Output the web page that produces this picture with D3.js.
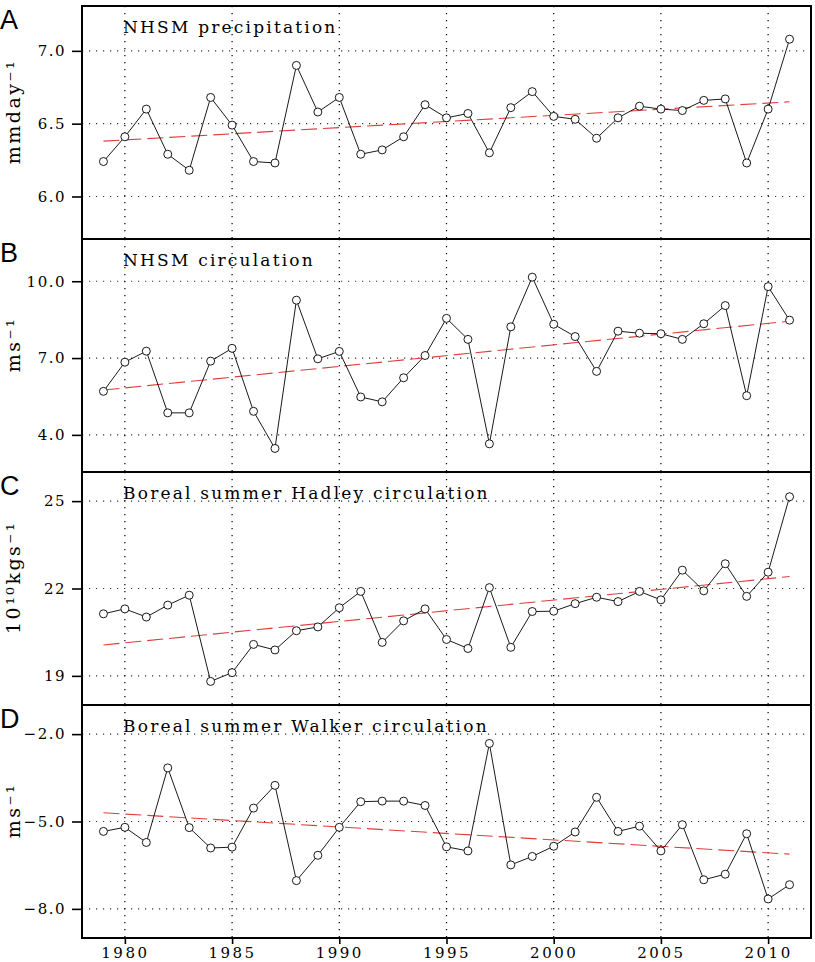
<!DOCTYPE html>
<html>
<head>
<meta charset="utf-8">
<script src="https://cdnjs.cloudflare.com/ajax/libs/d3/7.8.5/d3.min.js"></script>
<style>
body { margin: 0; background: #fff; }
</style>
</head>
<body>
<div id="chart"></div>
<script>
// years on the x axis
var years = [1979, 1980, 1981, 1982, 1983, 1984, 1985, 1986, 1987, 1988, 1989, 1990,
    1991, 1992, 1993, 1994, 1995, 1996, 1997, 1998, 1999, 2000, 2001, 2002, 2003,
    2004, 2005, 2006, 2007, 2008, 2009, 2010, 2011];
var xTicks = [1980, 1985, 1990, 1995, 2000, 2005, 2010];

// A: NHSM precipitation (mm/day)
var precip = [6.24, 6.41, 6.60, 6.29, 6.18, 6.68, 6.49, 6.24, 6.23, 6.90, 6.58, 6.68,
    6.29, 6.32, 6.41, 6.63, 6.54, 6.57, 6.30, 6.61, 6.72, 6.55, 6.53, 6.40, 6.54,
    6.62, 6.60, 6.59, 6.66, 6.67, 6.23, 6.60, 7.08];
var precipTrend = [6.38, 6.65];
var precipTicks = [6.0, 6.5, 7.0];

// B: NHSM circulation (m/s)
var circ = [5.70, 6.84, 7.27, 4.86, 4.86, 6.88, 7.38, 4.92, 3.47, 9.26, 6.97, 7.26,
    5.48, 5.29, 6.23, 7.10, 8.55, 7.73, 3.65, 8.22, 10.16, 8.32, 7.84, 6.48, 8.05,
    7.97, 7.95, 7.73, 8.34, 9.05, 5.53, 9.79, 8.48];
var circTrend = [5.75, 8.44];
var circTicks = [4.0, 7.0, 10.0];

// C: boreal summer Hadley circulation (10^10 kg/s)
var hadley = [21.13, 21.30, 21.02, 21.43, 21.77, 18.81, 19.11, 20.08, 19.89, 20.55, 20.68, 21.34,
    21.90, 20.15, 20.89, 21.30, 20.25, 19.94, 22.03, 19.98, 21.21, 21.22, 21.48, 21.70, 21.55,
    21.90, 21.61, 22.63, 21.92, 22.85, 21.73, 22.56, 25.15];
var hadleyTrend = [20.06, 22.41];
var hadleyTicks = [19, 22, 25];

// D: boreal summer Walker circulation (m/s)
var walker = [-5.34, -5.20, -5.72, -3.16, -5.21, -5.91, -5.88, -4.54, -3.76, -7.03, -6.16, -5.20,
    -4.32, -4.30, -4.30, -4.45, -5.87, -6.01, -2.32, -6.49, -6.20, -5.85, -5.36, -4.17, -5.34,
    -5.16, -6.01, -5.11, -7.00, -6.81, -5.42, -7.66, -7.17];
var walkerTrend = [-4.70, -6.12];
var walkerTicks = [-8.0, -5.0, -2.0];

var panels = [
    {letter: "A", title: "NHSM precipitation", unit: "mmday\u207B\u00B9", values: precip,
        trend: precipTrend, ticks: precipTicks, domain: [5.708, 7.308], fmt: ".1f"},
    {letter: "B", title: "NHSM circulation", unit: "ms\u207B\u00B9", values: circ,
        trend: circTrend, ticks: circTicks, domain: [2.55, 11.65], fmt: ".1f"},
    {letter: "C", title: "Boreal summer Hadley circulation", unit: "10\u00B9\u2070kgs\u207B\u00B9", values: hadley,
        trend: hadleyTrend, ticks: hadleyTicks, domain: [18.0, 26.0], fmt: "d"},
    {letter: "D", title: "Boreal summer Walker circulation", unit: "ms\u207B\u00B9", values: walker,
        trend: walkerTrend, ticks: walkerTicks, domain: [-9.0, -1.0], fmt: ".1f"}
];

var width = 815, height = 962;
var left = 82, right = 811, top0 = 6, panelH = 233;
var serif = "'DejaVu Serif', serif";

var svg = d3.select("#chart").append("svg")
    .attr("width", width)
    .attr("height", height);

var x = d3.scaleLinear().domain([1978, 2012]).range([left, right]);

panels.forEach(function (p, i) {
    var y0 = top0 + i * panelH;
    var y = d3.scaleLinear().domain(p.domain).range([y0 + panelH, y0]);
    var g = svg.append("g");

    // dotted grid
    g.selectAll(".hgrid").data(p.ticks).enter().append("line")
        .attr("x1", left).attr("x2", right)
        .attr("y1", function (d) { return y(d); })
        .attr("y2", function (d) { return y(d); })
        .style("stroke", "#333")
        .style("stroke-width", 1.2)
        .style("stroke-dasharray", "1.2,5.8");
    g.selectAll(".vgrid").data(xTicks).enter().append("line")
        .attr("x1", function (d) { return x(d); })
        .attr("x2", function (d) { return x(d); })
        .attr("y1", y0).attr("y2", y0 + panelH)
        .style("stroke", "#000")
        .style("stroke-width", 1.2)
        .style("stroke-dasharray", "1.2,5.8");

    // linear trend
    g.append("line")
        .attr("x1", x(years[0])).attr("x2", x(years[years.length - 1]))
        .attr("y1", y(p.trend[0])).attr("y2", y(p.trend[1]))
        .style("stroke", "#e03c3c")
        .style("stroke-width", 1.1)
        .style("stroke-dasharray", "16,6");

    var line = d3.line()
        .x(function (d, j) { return x(years[j]); })
        .y(function (d) { return y(d); });

    g.append("path")
        .datum(p.values)
        .attr("d", line)
        .style("fill", "none")
        .style("stroke", "#000")
        .style("stroke-width", 0.9);

    g.selectAll("circle").data(p.values).enter().append("circle")
        .attr("cx", function (d, j) { return x(years[j]); })
        .attr("cy", function (d) { return y(d); })
        .attr("r", 4)
        .style("fill", "#fff")
        .style("stroke", "#000")
        .style("stroke-width", 0.9);

    // y axis
    var yAxis = g.append("g")
        .attr("transform", "translate(" + left + ",0)")
        .call(d3.axisLeft(y).tickValues(p.ticks).tickSize(10).tickPadding(6).tickFormat(d3.format(p.fmt)));
    yAxis.select(".domain").remove();
    yAxis.selectAll("line").style("stroke", "#000").style("stroke-width", 1.6);
    yAxis.selectAll("text")
        .style("font-family", serif)
        .style("font-size", "15px")
        .style("letter-spacing", "1.5px")
        .style("fill", "#000");

    // frame
    g.append("rect")
        .attr("x", left).attr("y", y0)
        .attr("width", right - left).attr("height", panelH)
        .style("fill", "none")
        .style("stroke", "#000")
        .style("stroke-width", 2);

    g.append("text")
        .attr("x", left + 41).attr("y", y0 + 27)
        .text(p.title)
        .style("font-family", serif)
        .style("font-size", "17px")
        .style("letter-spacing", "2.2px")
        .style("fill", "#000");

    g.append("text")
        .attr("x", 0).attr("y", y0 + 22.5)
        .text(p.letter)
        .style("font-family", "'Liberation Sans', Arial, sans-serif")
        .style("font-size", "27px")
        .style("fill", "#000");

    g.append("text")
        .attr("transform", "translate(20," + (y0 + panelH / 2 - 11) + ") rotate(-90)")
        .attr("text-anchor", "middle")
        .text(p.unit)
        .style("font-family", serif)
        .style("font-size", "19px")
        .style("letter-spacing", "2.5px")
        .style("fill", "#000");

    // shared x axis at the bottom
    if (i == panels.length - 1) {
        var xAxis = g.append("g")
            .attr("transform", "translate(0," + (y0 + panelH) + ")")
            .call(d3.axisBottom(x).tickValues(xTicks).tickSize(6).tickPadding(3).tickFormat(d3.format("d")));
        xAxis.select(".domain").remove();
        xAxis.selectAll("line").style("stroke", "#000").style("stroke-width", 1.6);
        xAxis.selectAll("text")
            .style("font-family", serif)
            .style("font-size", "15px")
            .style("letter-spacing", "2.5px")
            .style("fill", "#000");
    }
});
</script>
</body>
</html>
